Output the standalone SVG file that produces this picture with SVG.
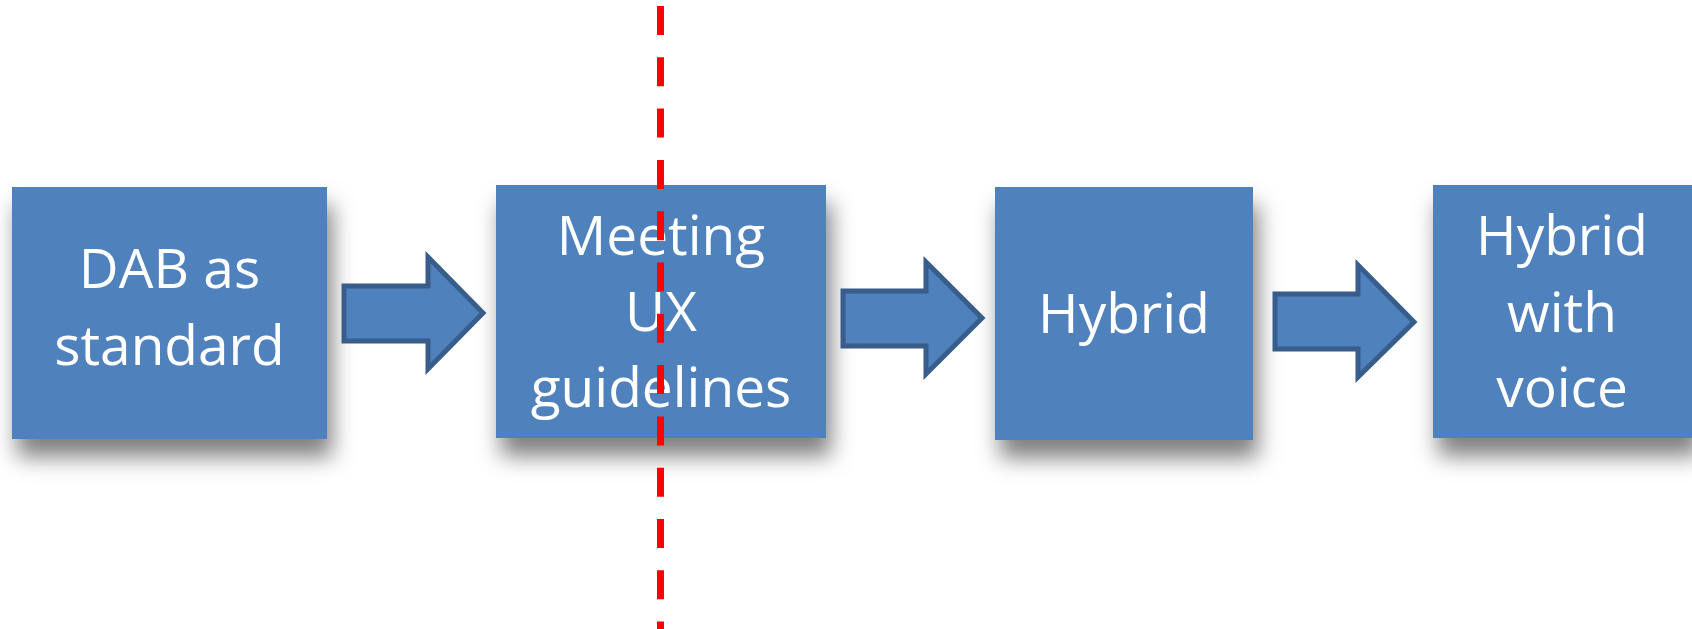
<svg xmlns="http://www.w3.org/2000/svg" width="1692" height="629" viewBox="0 0 1692 629">
<style>
.box{fill:#4F81BD;filter:url(#sh)}
.lbl{font-family:"Open Sans","Noto Sans","Liberation Sans",sans-serif;font-size:55px;fill:#FFFFFF;text-anchor:middle}
.arr{fill:#4F81BD;stroke:#385D8A;stroke-width:5;stroke-linejoin:miter}
.cut{stroke:#FF0000;stroke-width:7;stroke-dasharray:29 22.3;fill:none}
</style>
<defs>
<filter id="sh" x="-20%" y="-20%" width="150%" height="170%">
<feDropShadow dx="5" dy="18" stdDeviation="11" flood-color="#000" flood-opacity="0.5"/>
</filter>
</defs>
<rect width="1692" height="629" fill="#FFFFFF"/>
<g id="n1">
<rect class="box" x="12" y="187" width="315" height="252"/>
<text class="lbl" x="169.5" y="288">DAB as</text>
<text class="lbl" x="169.5" y="365">standard</text>
</g>
<g id="n2">
<rect class="box" x="496" y="185" width="330" height="253"/>
<text class="lbl" x="661" y="255">Meeting</text>
<text class="lbl" x="661" y="331">UX</text>
<text class="lbl" x="661" y="407">guidelines</text>
</g>
<g id="n3">
<rect class="box" x="995" y="187" width="258" height="253"/>
<text class="lbl" x="1124" y="333">Hybrid</text>
</g>
<g id="n4">
<rect class="box" x="1433" y="185" width="262" height="253"/>
<text class="lbl" x="1562" y="255">Hybrid</text>
<text class="lbl" x="1562" y="332">with</text>
<text class="lbl" x="1562" y="407">voice</text>
</g>
<g id="connectors">
<path class="arr" d="M344,286 H428 V257 L483,313 L428,369 V341 H344 Z"/>
<path class="arr" d="M843,291 H926 V262 L982,318 L926,374 V346 H843 Z"/>
<path class="arr" d="M1275,294 H1358 V265 L1414,322 L1358,377 V349 H1275 Z"/>
</g>
<line class="cut" x1="660.5" y1="6" x2="660.5" y2="629"/>
</svg>
